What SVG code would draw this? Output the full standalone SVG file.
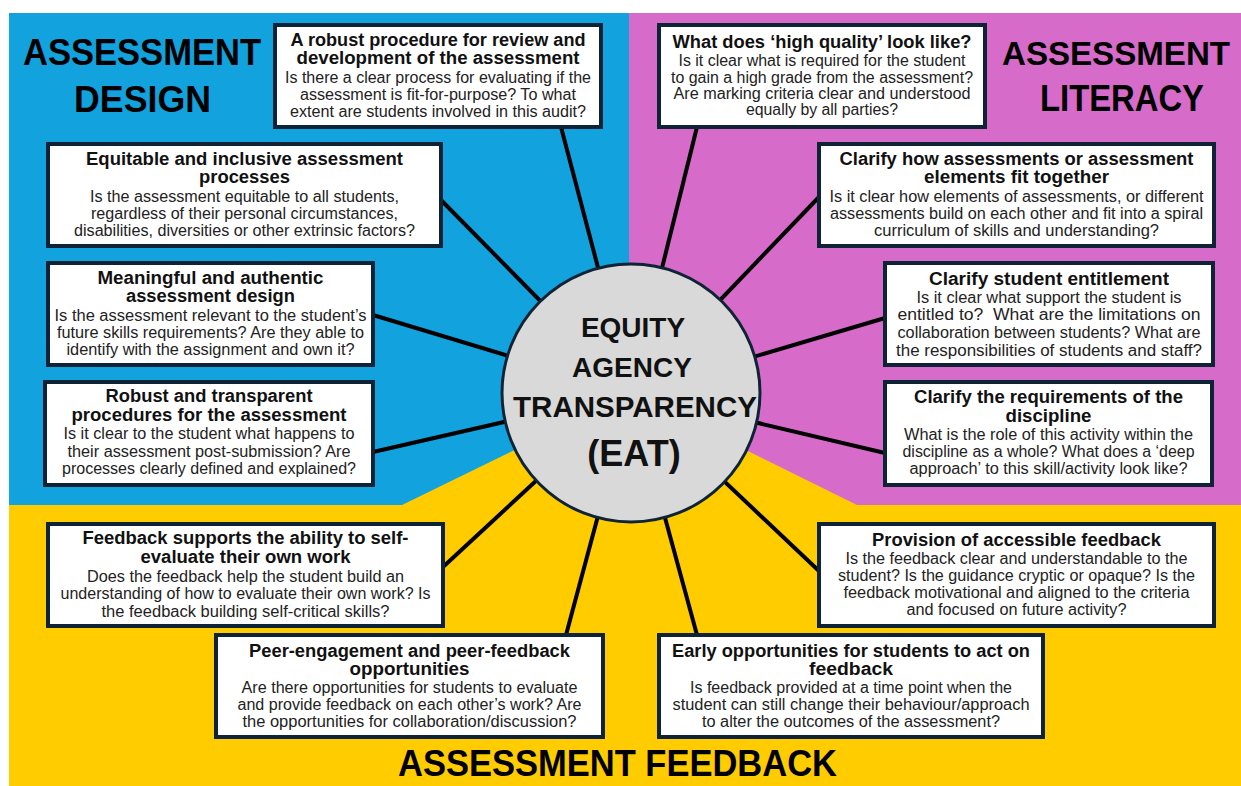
<svg xmlns="http://www.w3.org/2000/svg" width="1241" height="786" viewBox="0 0 1241 786">
<style>
.box{fill:#ffffff;stroke:#0e2436;stroke-width:4}
.t{font-family:"Liberation Sans",Arial,sans-serif;font-weight:bold;font-size:18px;fill:#111;text-anchor:middle}
.b{font-family:"Liberation Sans",Arial,sans-serif;font-size:16px;fill:#222;text-anchor:middle}
.h{font-family:"Liberation Sans",Arial,sans-serif;font-weight:bold;fill:#000;text-anchor:start}
.c{font-family:"Liberation Sans",Arial,sans-serif;font-weight:bold;fill:#111;text-anchor:middle}
.sp{stroke:#000;stroke-width:4;fill:none}
</style>
<rect width="1241" height="786" fill="#ffffff"/>
<g id="background">
<rect x="9" y="13" width="620" height="492" fill="#12a2de"/>
<rect x="629" y="13" width="612" height="492" fill="#d66bc9"/>
<polygon points="9,505 402,505 631,393 857,505 1241,505 1241,786 9,786" fill="#ffcc00"/>
</g>
<g id="headings">
<text class="h" x="23" y="65" font-size="36" textLength="238" lengthAdjust="spacingAndGlyphs">ASSESSMENT</text>
<text class="h" x="74" y="112" font-size="36" textLength="137" lengthAdjust="spacingAndGlyphs">DESIGN</text>
<text class="h" x="1002" y="65" font-size="34" textLength="228" lengthAdjust="spacingAndGlyphs">ASSESSMENT</text>
<text class="h" x="1040" y="111" font-size="36" textLength="164" lengthAdjust="spacingAndGlyphs">LITERACY</text>
<text class="h" x="398" y="776" font-size="37" textLength="439" lengthAdjust="spacingAndGlyphs">ASSESSMENT FEEDBACK</text>
</g>
<g id="connectors">
<line class="sp" x1="561" y1="127" x2="631" y2="393"/>
<line class="sp" x1="697" y1="127" x2="631" y2="393"/>
<line class="sp" x1="441" y1="200" x2="631" y2="393"/>
<line class="sp" x1="819" y1="197" x2="631" y2="393"/>
<line class="sp" x1="373" y1="315" x2="631" y2="393"/>
<line class="sp" x1="885" y1="318" x2="631" y2="393"/>
<line class="sp" x1="373" y1="452" x2="631" y2="393"/>
<line class="sp" x1="885" y1="453" x2="631" y2="393"/>
<line class="sp" x1="443" y1="567" x2="631" y2="393"/>
<line class="sp" x1="819" y1="571" x2="631" y2="393"/>
<line class="sp" x1="566" y1="635" x2="631" y2="393"/>
<line class="sp" x1="697" y1="635" x2="631" y2="393"/>
</g>
<g id="center">
<circle cx="631" cy="393" r="129" fill="#d9d9d9" stroke="#0e2436" stroke-width="3"/>
<text class="c" x="633" y="337" font-size="28">EQUITY</text>
<text class="c" x="632" y="377" font-size="28">AGENCY</text>
<text class="c" x="635" y="417" font-size="29" textLength="244" lengthAdjust="spacingAndGlyphs">TRANSPARENCY</text>
<text class="c" x="634" y="466" font-size="36">(EAT)</text>
</g>
<g id="box-robust-procedure">
<rect class="box" x="275" y="25" width="326" height="102"/>
<text class="t" x="438" y="46" textLength="295" lengthAdjust="spacingAndGlyphs">A robust procedure for review and</text>
<text class="t" x="438" y="64" textLength="283" lengthAdjust="spacingAndGlyphs">development of the assessment</text>
<text class="b" x="438" y="83" textLength="306" lengthAdjust="spacingAndGlyphs">Is there a clear process for evaluating if the</text>
<text class="b" x="438" y="100" textLength="276" lengthAdjust="spacingAndGlyphs">assessment is fit-for-purpose? To what</text>
<text class="b" x="438" y="117" textLength="296" lengthAdjust="spacingAndGlyphs">extent are students involved in this audit?</text>
</g>
<g id="box-equitable">
<rect class="box" x="48" y="144" width="393" height="102"/>
<text class="t" x="244.5" y="165" textLength="317" lengthAdjust="spacingAndGlyphs">Equitable and inclusive assessment</text>
<text class="t" x="244.5" y="183" textLength="91" lengthAdjust="spacingAndGlyphs">processes</text>
<text class="b" x="244.5" y="202" textLength="309" lengthAdjust="spacingAndGlyphs">Is the assessment equitable to all students,</text>
<text class="b" x="244.5" y="219" textLength="307" lengthAdjust="spacingAndGlyphs">regardless of their personal circumstances,</text>
<text class="b" x="244.5" y="236" textLength="341" lengthAdjust="spacingAndGlyphs">disabilities, diversities or other extrinsic factors?</text>
</g>
<g id="box-meaningful">
<rect class="box" x="48" y="263" width="325" height="102"/>
<text class="t" x="210.5" y="284" textLength="226" lengthAdjust="spacingAndGlyphs">Meaningful and authentic</text>
<text class="t" x="210.5" y="302" textLength="169" lengthAdjust="spacingAndGlyphs">assessment design</text>
<text class="b" x="210.5" y="321" textLength="312" lengthAdjust="spacingAndGlyphs">Is the assessment relevant to the student’s</text>
<text class="b" x="210.5" y="338" textLength="307" lengthAdjust="spacingAndGlyphs">future skills requirements? Are they able to</text>
<text class="b" x="210.5" y="355" textLength="288" lengthAdjust="spacingAndGlyphs">identify with the assignment and own it?</text>
</g>
<g id="box-robust-transparent">
<rect class="box" x="45" y="382" width="328" height="103"/>
<text class="t" x="209" y="402" textLength="207" lengthAdjust="spacingAndGlyphs">Robust and transparent</text>
<text class="t" x="209" y="421" textLength="275" lengthAdjust="spacingAndGlyphs">procedures for the assessment</text>
<text class="b" x="209" y="439" textLength="291" lengthAdjust="spacingAndGlyphs">Is it clear to the student what happens to</text>
<text class="b" x="209" y="457" textLength="283" lengthAdjust="spacingAndGlyphs">their assessment post-submission? Are</text>
<text class="b" x="209" y="474" textLength="294" lengthAdjust="spacingAndGlyphs">processes clearly defined and explained?</text>
</g>
<g id="box-self-evaluate">
<rect class="box" x="48" y="524" width="395" height="102"/>
<text class="t" x="245.5" y="544" textLength="326" lengthAdjust="spacingAndGlyphs">Feedback supports the ability to self-</text>
<text class="t" x="245.5" y="563" textLength="210" lengthAdjust="spacingAndGlyphs">evaluate their own work</text>
<text class="b" x="245.5" y="582" textLength="317" lengthAdjust="spacingAndGlyphs">Does the feedback help the student build an</text>
<text class="b" x="245.5" y="599" textLength="370" lengthAdjust="spacingAndGlyphs">understanding of how to evaluate their own work? Is</text>
<text class="b" x="245.5" y="617" textLength="288" lengthAdjust="spacingAndGlyphs">the feedback building self-critical skills?</text>
</g>
<g id="box-peer">
<rect class="box" x="216" y="635" width="387" height="102"/>
<text class="t" x="409.5" y="657" textLength="321" lengthAdjust="spacingAndGlyphs">Peer-engagement and peer-feedback</text>
<text class="t" x="409.5" y="675" textLength="120" lengthAdjust="spacingAndGlyphs">opportunities</text>
<text class="b" x="409.5" y="693" textLength="336" lengthAdjust="spacingAndGlyphs">Are there opportunities for students to evaluate</text>
<text class="b" x="409.5" y="710" textLength="344" lengthAdjust="spacingAndGlyphs">and provide feedback on each other’s work? Are</text>
<text class="b" x="409.5" y="727" textLength="334" lengthAdjust="spacingAndGlyphs">the opportunities for collaboration/discussion?</text>
</g>
<g id="box-early">
<rect class="box" x="659" y="635" width="384" height="102"/>
<text class="t" x="851" y="657" textLength="358" lengthAdjust="spacingAndGlyphs">Early opportunities for students to act on</text>
<text class="t" x="851" y="675" textLength="84" lengthAdjust="spacingAndGlyphs">feedback</text>
<text class="b" x="851" y="693" textLength="322" lengthAdjust="spacingAndGlyphs">Is feedback provided at a time point when the</text>
<text class="b" x="851" y="710" textLength="357" lengthAdjust="spacingAndGlyphs">student can still change their behaviour/approach</text>
<text class="b" x="851" y="727" textLength="298" lengthAdjust="spacingAndGlyphs">to alter the outcomes of the assessment?</text>
</g>
<g id="box-accessible">
<rect class="box" x="819" y="524" width="395" height="102"/>
<text class="t" x="1016.5" y="546" textLength="289" lengthAdjust="spacingAndGlyphs">Provision of accessible feedback</text>
<text class="b" x="1016.5" y="564" textLength="342" lengthAdjust="spacingAndGlyphs">Is the feedback clear and understandable to the</text>
<text class="b" x="1016.5" y="581" textLength="357" lengthAdjust="spacingAndGlyphs">student? Is the guidance cryptic or opaque? Is the</text>
<text class="b" x="1016.5" y="598" textLength="346" lengthAdjust="spacingAndGlyphs">feedback motivational and aligned to the criteria</text>
<text class="b" x="1016.5" y="615" textLength="220" lengthAdjust="spacingAndGlyphs">and focused on future activity?</text>
</g>
<g id="box-discipline">
<rect class="box" x="885" y="382" width="327" height="103"/>
<text class="t" x="1048.5" y="403" textLength="269" lengthAdjust="spacingAndGlyphs">Clarify the requirements of the</text>
<text class="t" x="1048.5" y="422" textLength="86" lengthAdjust="spacingAndGlyphs">discipline</text>
<text class="b" x="1048.5" y="440" textLength="289" lengthAdjust="spacingAndGlyphs">What is the role of this activity within the</text>
<text class="b" x="1048.5" y="457" textLength="292" lengthAdjust="spacingAndGlyphs">discipline as a whole? What does a ‘deep</text>
<text class="b" x="1048.5" y="474" textLength="278" lengthAdjust="spacingAndGlyphs">approach’ to this skill/activity look like?</text>
</g>
<g id="box-entitlement">
<rect class="box" x="885" y="263" width="328" height="102"/>
<text class="t" x="1049" y="285" textLength="240" lengthAdjust="spacingAndGlyphs">Clarify student entitlement</text>
<text class="b" x="1049" y="303" textLength="265" lengthAdjust="spacingAndGlyphs">Is it clear what support the student is</text>
<text class="b" x="1049" y="320" textLength="303" lengthAdjust="spacingAndGlyphs">entitled to?&#160; What are the limitations on</text>
<text class="b" x="1049" y="338" textLength="303" lengthAdjust="spacingAndGlyphs">collaboration between students? What are</text>
<text class="b" x="1049" y="356" textLength="306" lengthAdjust="spacingAndGlyphs">the responsibilities of students and staff?</text>
</g>
<g id="box-fit-together">
<rect class="box" x="819" y="144" width="395" height="102"/>
<text class="t" x="1016.5" y="165" textLength="354" lengthAdjust="spacingAndGlyphs">Clarify how assessments or assessment</text>
<text class="t" x="1016.5" y="183" textLength="185" lengthAdjust="spacingAndGlyphs">elements fit together</text>
<text class="b" x="1016.5" y="202" textLength="374" lengthAdjust="spacingAndGlyphs">Is it clear how elements of assessments, or different</text>
<text class="b" x="1016.5" y="219" textLength="373" lengthAdjust="spacingAndGlyphs">assessments build on each other and fit into a spiral</text>
<text class="b" x="1016.5" y="236" textLength="285" lengthAdjust="spacingAndGlyphs">curriculum of skills and understanding?</text>
</g>
<g id="box-high-quality">
<rect class="box" x="659" y="25" width="326" height="102"/>
<text class="t" x="822" y="48" textLength="299" lengthAdjust="spacingAndGlyphs">What does ‘high quality’ look like?</text>
<text class="b" x="822" y="66" textLength="287" lengthAdjust="spacingAndGlyphs">Is it clear what is required for the student</text>
<text class="b" x="822" y="83" textLength="302" lengthAdjust="spacingAndGlyphs">to gain a high grade from the assessment?</text>
<text class="b" x="822" y="99" textLength="297" lengthAdjust="spacingAndGlyphs">Are marking criteria clear and understood</text>
<text class="b" x="822" y="115" textLength="152" lengthAdjust="spacingAndGlyphs">equally by all parties?</text>
</g>
</svg>
